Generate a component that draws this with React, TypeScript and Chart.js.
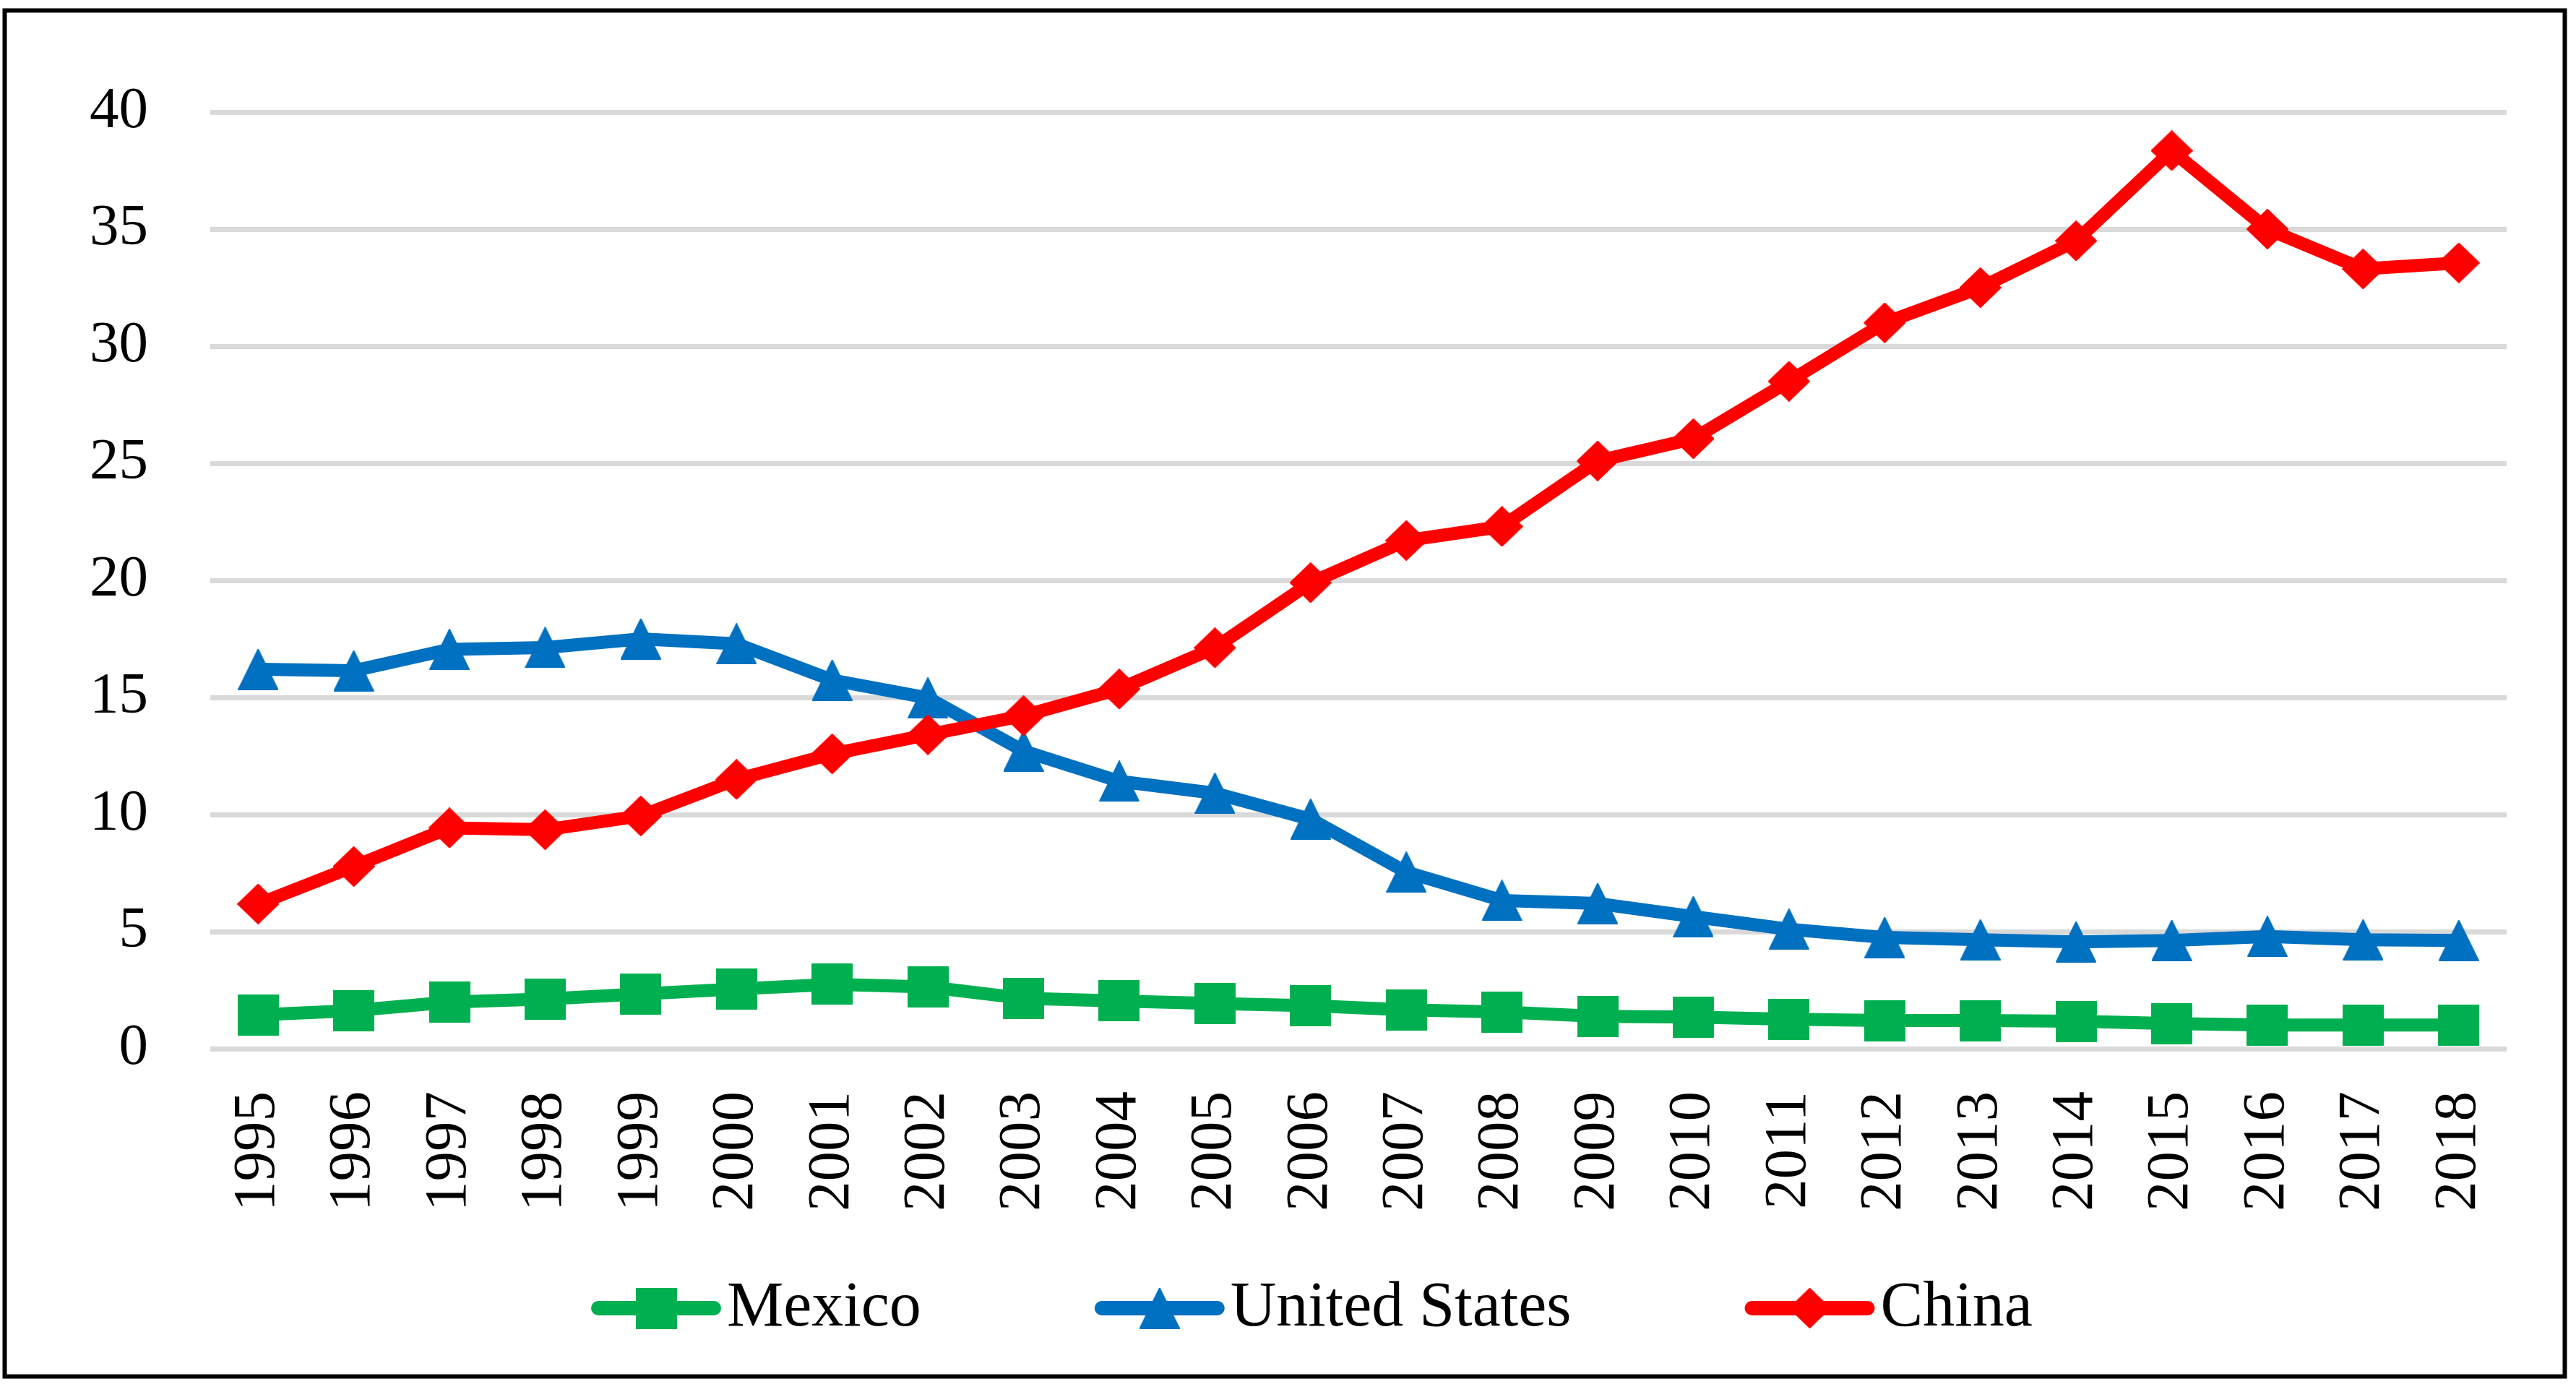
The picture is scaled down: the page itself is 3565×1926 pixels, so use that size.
import React, { useEffect, useRef } from "react";
import { Chart, registerables } from "chart.js";

Chart.register(...registerables);

// ---- Data ----
const years = [
  "1995", "1996", "1997", "1998", "1999", "2000", "2001", "2002", "2003", "2004", "2005", "2006",
  "2007", "2008", "2009", "2010", "2011", "2012", "2013", "2014", "2015", "2016", "2017", "2018",
];
const mexico = [
  1.44, 1.63, 1.99, 2.12, 2.34, 2.55, 2.75, 2.64, 2.15, 2.04, 1.93, 1.84,
  1.66, 1.57, 1.38, 1.35, 1.26, 1.2, 1.2, 1.17, 1.07, 1.01, 1.01, 1.01,
];
const unitedStates = [
  16.2, 16.14, 17.05, 17.13, 17.5, 17.29, 15.74, 14.98, 12.71, 11.42, 10.91, 9.8,
  7.54, 6.33, 6.2, 5.64, 5.1, 4.75, 4.65, 4.56, 4.62, 4.79, 4.65, 4.62,
];
const china = [
  6.18, 7.78, 9.43, 9.35, 9.94, 11.5, 12.59, 13.41, 14.22, 15.36, 17.12, 19.9,
  21.7, 22.3, 25.1, 26.05, 28.5, 31.0, 32.5, 34.5, 38.35, 35.0, 33.3, 33.56,
];
const seriesNames = ["Mexico", "United States", "China"];
const seriesColors = ["#00B050", "#0070C0", "#FF0000"];
const markerKinds = ["square", "triangle", "diamond"];
const yMin = 0;
const yMax = 40;
const yStep = 5;

const FONT = '"Liberation Serif", "Times New Roman", serif';

function makeMarker(kind: string, color: string): HTMLCanvasElement {
  const c = document.createElement("canvas");
  let w = 57;
  let h = 57;
  if (kind === "triangle") { w = 56; h = 57; }
  if (kind === "diamond") { w = 58; h = 56; }
  c.width = w;
  c.height = h;
  const g = c.getContext("2d")!;
  g.fillStyle = color;
  g.strokeStyle = color;
  g.lineJoin = "round";
  g.lineWidth = 2;
  g.beginPath();
  if (kind === "square") {
    const r = 4;
    g.moveTo(r, 0);
    g.lineTo(w - r, 0);
    g.quadraticCurveTo(w, 0, w, r);
    g.lineTo(w, h - r);
    g.quadraticCurveTo(w, h, w - r, h);
    g.lineTo(r, h);
    g.quadraticCurveTo(0, h, 0, h - r);
    g.lineTo(0, r);
    g.quadraticCurveTo(0, 0, r, 0);
  } else if (kind === "triangle") {
    g.moveTo(w / 2, 1);
    g.lineTo(w - 1, h - 1);
    g.lineTo(1, h - 1);
  } else {
    g.moveTo(w / 2, 1);
    g.lineTo(w - 1, h / 2);
    g.lineTo(w / 2, h - 1);
    g.lineTo(1, h / 2);
  }
  g.closePath();
  g.fill();
  g.stroke();
  return c;
}

export default function App() {
  const ref = useRef<HTMLCanvasElement | null>(null);

  useEffect(() => {
    const canvas = ref.current;
    if (!canvas) return;
    const markers = seriesColors.map((col, i) => makeMarker(markerKinds[i], col));
    const values = [mexico, unitedStates, china];

    const framePlugin = {
      id: "frame",
      beforeDraw(chart: any) {
        const ctx = chart.ctx;
        ctx.save();
        ctx.fillStyle = "#ffffff";
        ctx.fillRect(0, 0, chart.width, chart.height);
        ctx.restore();
      },
      afterDraw(chart: any) {
        const ctx = chart.ctx;
        ctx.save();
        ctx.strokeStyle = "#000000";
        ctx.lineWidth = 6;
        ctx.strokeRect(6.5, 14.5, 3543, 1890);
        ctx.restore();
      },
    };

    const legendPlugin = {
      id: "lineLegend",
      afterDraw(chart: any) {
        const ctx = chart.ctx;
        ctx.save();
        ctx.font = `88px ${FONT}`;
        ctx.textBaseline = "alphabetic";
        ctx.textAlign = "left";
        let x = 818;
        const yc = 1810;
        const lineLen = 180;
        seriesNames.forEach((name, i) => {
          ctx.strokeStyle = seriesColors[i];
          ctx.lineWidth = 20;
          ctx.lineCap = "round";
          ctx.beginPath();
          ctx.moveTo(x + 10, yc);
          ctx.lineTo(x + lineLen - 10, yc);
          ctx.stroke();
          const m = markers[i];
          ctx.drawImage(m, x + lineLen / 2 - m.width / 2, yc - m.height / 2);
          ctx.fillStyle = "#000000";
          ctx.fillText(name, x + lineLen + 8, yc + 24);
          const tw = ctx.measureText(name).width;
          x += lineLen + 8 + tw + 240;
        });
        ctx.restore();
      },
    };

    const chart = new Chart(canvas, {
      type: "line",
      data: {
        labels: years,
        datasets: seriesNames.map((name, i) => ({
          label: name,
          data: values[i],
          borderColor: seriesColors[i],
          backgroundColor: seriesColors[i],
          borderWidth: 18,
          borderJoinStyle: "round",
          borderCapStyle: "round",
          pointStyle: markers[i],
          pointRadius: 28,
          pointHoverRadius: 28,
          tension: 0,
          fill: false,
          order: 2 - i,
        })),
      },
      options: {
        responsive: false,
        maintainAspectRatio: false,
        animation: false,
        devicePixelRatio: 1,
        events: [],
        layout: { padding: { left: 0, top: 155, right: 96, bottom: 0 } },
        plugins: {
          legend: { display: false },
          tooltip: { enabled: false },
          title: { display: false },
        },
        scales: {
          x: {
            type: "category",
            offset: true,
            grid: { display: false, drawTicks: false },
            border: { display: false },
            ticks: {
              color: "#000000",
              font: { family: FONT, size: 83 },
              minRotation: 90,
              maxRotation: 90,
              autoSkip: false,
              padding: 59,
            },
            afterFit(scale: any) {
              scale.height = 1926 - 1451;
            },
          },
          y: {
            type: "linear",
            min: yMin,
            max: yMax,
            grid: { color: "#D9D9D9", lineWidth: 7, drawTicks: false },
            border: { display: false },
            ticks: {
              stepSize: yStep,
              color: "#000000",
              font: { family: FONT, size: 81 },
              padding: 86,
            },
            afterFit(scale: any) {
              scale.width = 291;
            },
          },
        },
      },
      plugins: [framePlugin, legendPlugin],
    } as any);

    return () => chart.destroy();
  }, []);

  return (
    <div style={{ position: "fixed", left: 0, top: 0, width: 3565, height: 1926 }}>
      <canvas ref={ref} width={3565} height={1926} style={{ display: "block", width: 3565, height: 1926 }} />
    </div>
  );
}
